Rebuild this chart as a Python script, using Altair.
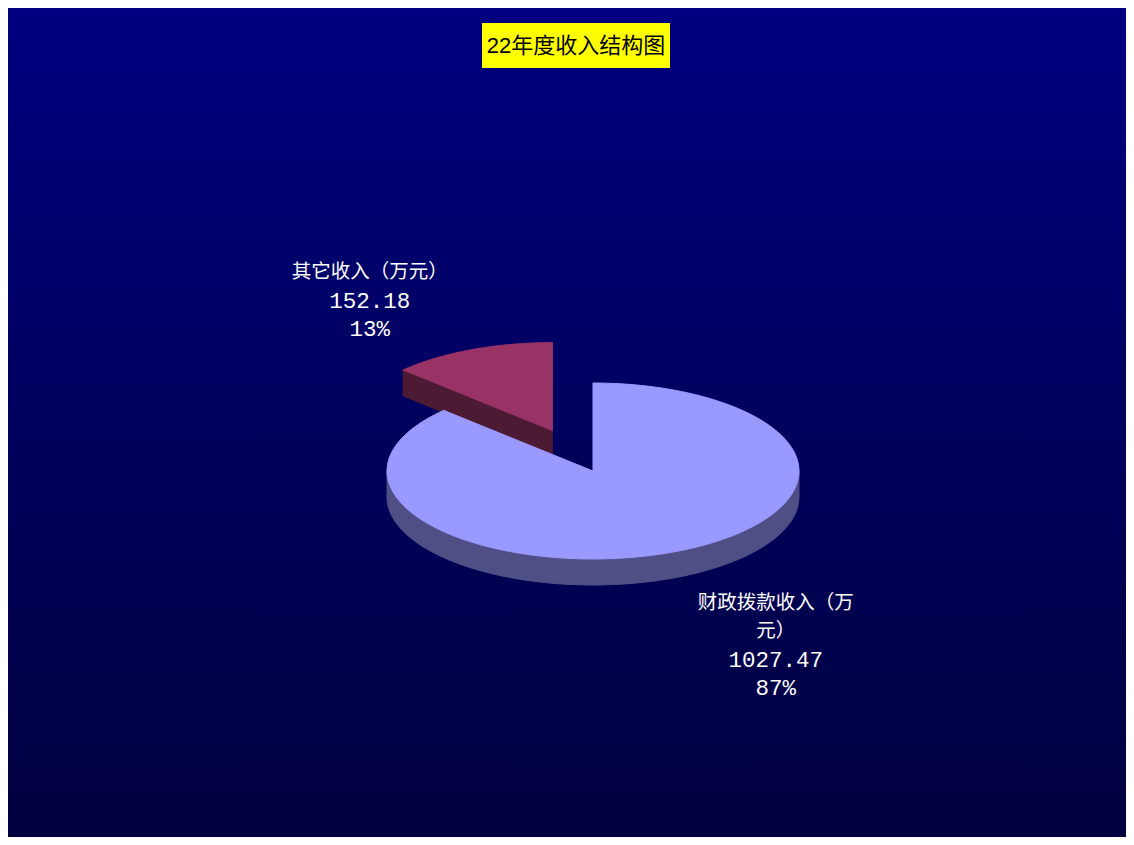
import json
import math
import altair as alt
import pandas as pd

# ---- data ----
categories = ["财政拨款收入（万元）", "其它收入（万元）"]
values = [1027.47, 152.18]
exploded = ["其它收入（万元）"]
title_text = "22年度收入结构图"

# ---- styles / layout ----
top_colors = ["#9999FF", "#993366"]
side_colors = ["#4F4F86", "#4D1A33"]
W, H = 1118, 829
CX, CY = 585, 463
RX, RY = 206, 88
DEPTH = 26
EXPLODE = 0.5
N = 160
KX, KY = 2.25, 1.28
LH = 28.5
WRAP = 8

df = pd.DataFrame({"category": categories, "value": values, "idx": list(range(len(categories)))})

xs = alt.Scale(domain=[0, W], range=[0, W], nice=False, zero=False)
ys = alt.Scale(domain=[0, H], range=[0, H], nice=False, zero=False)
top_scale = alt.Scale(domain=categories, range=top_colors)
side_scale = alt.Scale(domain=categories, range=side_colors)
ex_list = json.dumps(exploded, ensure_ascii=False)


def base():
    return (
        alt.Chart(df)
        .transform_joinaggregate(total="sum(value)")
        .transform_window(cum="sum(value)", sort=[alt.SortField("idx")], frame=[None, 0])
        .transform_calculate(
            start="2*PI*(datum.cum-datum.value)/datum.total",
            end="2*PI*datum.cum/datum.total",
        )
        .transform_calculate(
            mid="(datum.start+datum.end)/2",
            ex=f"indexof({ex_list}, datum.category) >= 0 ? {EXPLODE} : 0",
        )
        .transform_calculate(
            cx=f"{CX} + {RX}*datum.ex*sin(datum.mid)",
            cy=f"{CY} - {RY}*datum.ex*cos(datum.mid)",
        )
    )


def poly(chart, scale):
    return chart.mark_line(interpolate="linear-closed", strokeWidth=1).encode(
        x=alt.X("px:Q", scale=xs, axis=None),
        y=alt.Y("py:Q", scale=ys, axis=None),
        order=alt.Order("k:Q"),
        fill=alt.Fill("category:N", scale=scale, legend=None),
        stroke=alt.Stroke("category:N", scale=scale, legend=None),
    )


def top_face(cat):
    c = (
        base()
        .transform_filter(alt.datum.category == cat)
        .transform_calculate(k=f"sequence(-1, {N + 1})")
        .transform_flatten(["k"])
        .transform_calculate(
            a=f"datum.start + (datum.end-datum.start)*max(datum.k,0)/{N}",
        )
        .transform_calculate(
            px=f"datum.k < 0 ? datum.cx : datum.cx + {RX}*sin(datum.a)",
            py=f"datum.k < 0 ? datum.cy : datum.cy - {RY}*cos(datum.a)",
        )
    )
    return poly(c, top_scale)


def outer_wall(cat):
    c = (
        base()
        .transform_filter(alt.datum.category == cat)
        .transform_calculate(ws="max(datum.start, PI/2)", we="min(datum.end, 3*PI/2)")
        .transform_filter("datum.ws < datum.we")
        .transform_calculate(k=f"sequence(0, {2 * N + 2})")
        .transform_flatten(["k"])
        .transform_calculate(
            a=f"datum.k <= {N} ? datum.ws + (datum.we-datum.ws)*datum.k/{N} : datum.we - (datum.we-datum.ws)*(datum.k-{N}-1)/{N}",
        )
        .transform_calculate(
            px=f"datum.cx + {RX}*sin(datum.a)",
            py=f"datum.cy - {RY}*cos(datum.a) + (datum.k <= {N} ? 0 : {DEPTH})",
        )
    )
    return poly(c, side_scale)


def radial_wall(cat, edge):
    cond = "sin(datum.start) < -1e-6" if edge == "start" else "sin(datum.end) > 1e-6"
    c = (
        base()
        .transform_filter(alt.datum.category == cat)
        .transform_filter(cond)
        .transform_calculate(e=f"datum.{edge}")
        .transform_calculate(k="sequence(0, 4)")
        .transform_flatten(["k"])
        .transform_calculate(
            px=f"(datum.k == 1 || datum.k == 2) ? datum.cx + {RX}*sin(datum.e) : datum.cx",
            py=f"((datum.k == 1 || datum.k == 2) ? datum.cy - {RY}*cos(datum.e) : datum.cy) + (datum.k >= 2 ? {DEPTH} : 0)",
        )
    )
    return poly(c, side_scale)


# back-to-front drawing order of slices (by bisector depth)
tot = sum(values)
cum = 0
depth_key = {}
for cat, v in zip(categories, values):
    mid = 2 * math.pi * (cum + v / 2) / tot
    depth_key[cat] = -math.cos(mid)
    cum += v
order = sorted(categories, key=lambda c: depth_key[c])

pie_layers = []
for cat in order:
    pie_layers += [radial_wall(cat, "start"), radial_wall(cat, "end"), outer_wall(cat), top_face(cat)]

# ---- labels ----
vfmt = "format(datum.value, '.2f')"
pfmt = "format(datum.value/datum.total, '.0%')"
labels = (
    base()
    .transform_calculate(
        lines=(
            f"length(datum.category) > {WRAP} ? "
            f"[substring(datum.category,0,{WRAP}), substring(datum.category,{WRAP}), {vfmt}, {pfmt}] : "
            f"[datum.category, {vfmt}, {pfmt}]"
        ),
        ncat=f"length(datum.category) > {WRAP} ? 2 : 1",
    )
    .transform_flatten(["lines"], as_=["line"])
    .transform_window(li="row_number()", groupby=["category"])
    .transform_joinaggregate(nlines="count()", groupby=["category"])
    .transform_calculate(
        kind="datum.li <= datum.ncat ? 'cat' : 'num'",
        lx=f"datum.cx + {RX}*{KX}*sin(datum.mid)",
        ly0=f"datum.cy - {RY}*{KY}*cos(datum.mid)",
    )
    .transform_calculate(
        ly=f"cos(datum.mid) > 0 ? datum.ly0 - (datum.nlines - datum.li)*{LH} : datum.ly0 + {DEPTH} + (datum.li-1)*{LH}",
    )
)

label_cat = labels.transform_filter("datum.kind == 'cat'").mark_text(
    font="Noto Sans CJK SC", fontSize=19.5, color="white", align="center", baseline="middle", dy=2
).encode(
    x=alt.X("lx:Q", scale=xs, axis=None),
    y=alt.Y("ly:Q", scale=ys, axis=None),
    text="line:N",
)
label_num = labels.transform_filter("datum.kind == 'num'").mark_text(
    font="Liberation Mono", fontSize=22.5, color="white", align="center", baseline="middle", dy=2
).encode(
    x=alt.X("lx:Q", scale=xs, axis=None),
    y=alt.Y("ly:Q", scale=ys, axis=None),
    text="line:N",
)

# ---- background + title box ----
one = alt.Data(values=[{"t": title_text}])
bg = alt.Chart(one).mark_rect(
    fill=alt.Gradient(
        gradient="linear",
        stops=[
            alt.GradientStop(color="#000080", offset=0),
            alt.GradientStop(color="#00005E", offset=0.5),
            alt.GradientStop(color="#00003E", offset=1),
        ],
        x1=0, x2=0, y1=0, y2=1,
    )
).encode(x=alt.value(0), x2=alt.value(W), y=alt.value(0), y2=alt.value(H))

title_box = alt.Chart(one).mark_rect(fill="#FFFF00").encode(
    x=alt.value(474), x2=alt.value(662), y=alt.value(15), y2=alt.value(60)
)
title = alt.Chart(one).mark_text(
    font="Liberation Sans, Noto Sans CJK SC", fontSize=22, color="black", align="center", baseline="middle"
).encode(x=alt.value(568), y=alt.value(38), text="t:N")

chart = (
    alt.layer(bg, title_box, title, *pie_layers, label_cat, label_num)
    .properties(width=W, height=H, padding=0, autosize=alt.AutoSizeParams(type="none"))
    .configure_view(stroke=None)
    .resolve_scale(fill="independent", stroke="independent")
)

chart.save("out.html", embed_options={"renderer": "svg", "actions": False})
